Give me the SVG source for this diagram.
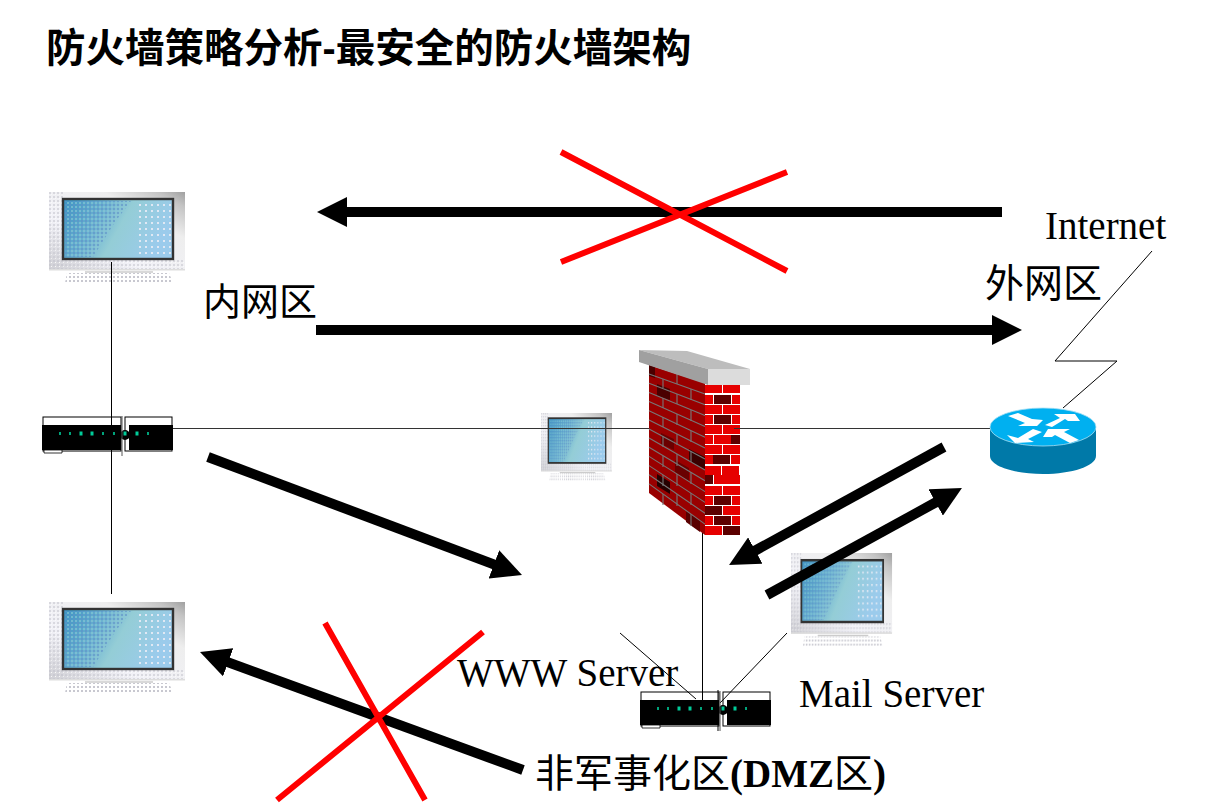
<svg xmlns="http://www.w3.org/2000/svg" width="1230" height="812" viewBox="0 0 1230 812">
<style>
text{fill:#000}
.lab{font-family:"Liberation Serif","Noto Sans CJK SC",serif;font-size:39px}
.title{font-family:"Liberation Sans","Noto Sans CJK SC",sans-serif;font-size:39.5px;font-weight:700}
.arrow{stroke:#000;stroke-width:10;fill:none;marker-end:url(#head)}
.cross{stroke:#f00;stroke-width:6;fill:none}
.thin{stroke:#000;stroke-width:1;fill:none}
.gray{stroke:#333;stroke-width:1;fill:none}
.b{fill:#e60000}.d{fill:#5c0000}
</style>
<defs>
<marker id="head" viewBox="0 0 30 30" refX="2" refY="15" markerWidth="3" markerHeight="3" orient="auto"><path d="M0 0L30 15L0 30Z" fill="#000"/></marker>
<linearGradient id="bezel" x1="0" y1="1" x2="1" y2="0"><stop offset="0" stop-color="#cfcfd4"/><stop offset=".35" stop-color="#f2f2f8"/><stop offset=".7" stop-color="#eeeeee"/><stop offset=".9" stop-color="#c4c4c4"/><stop offset="1" stop-color="#a0a0a0"/></linearGradient>
<linearGradient id="screen" x1="0" y1="0" x2="1" y2=".3"><stop offset="0" stop-color="#3a93c2"/><stop offset=".4" stop-color="#6eb4d2"/><stop offset=".6" stop-color="#94cdd6"/><stop offset="1" stop-color="#9bcbec"/></linearGradient>
<pattern id="grain" width="4" height="4" patternUnits="userSpaceOnUse"><rect width="2" height="2" fill="#c8c8d0"/><rect x="2" y="2" width="1" height="1" fill="#fff"/></pattern>
<pattern id="blued" width="4" height="4" patternUnits="userSpaceOnUse"><rect width="2" height="2" fill="#5f8fc8" opacity=".6"/><rect x="2" y="2" width="2" height="2" fill="#8cc8d6" opacity=".6"/></pattern>
<pattern id="whited" width="6" height="6" patternUnits="userSpaceOnUse"><rect width="2" height="2" fill="#e0e8f4"/></pattern>
<g id="monitor">
<rect x="0" y="0" width="136" height="78" fill="url(#bezel)"/>
<rect x="0" y="0" width="14" height="78" fill="url(#grain)" opacity=".6"/>
<rect x="0" y="67" width="136" height="11" fill="url(#grain)" opacity=".6"/>
<rect x="0" y="77" width="136" height="1.5" fill="#ddd"/>
<rect x="14" y="7" width="110" height="60" fill="url(#screen)"/>
<path d="M16 9H82L66 30L44 65H16Z" fill="url(#blued)"/>
<rect x="88" y="12" width="34" height="53" fill="url(#whited)"/>
<rect x="14" y="7" width="110" height="60" fill="none" stroke="#333" stroke-width="2.4"/>
<path d="M18 81H120L124 91H16Z" fill="url(#grain)"/>
<path d="M36 80H104" stroke="#ccc" stroke-width="1.5"/>
</g>
<g id="switch">
<rect x="1" y="0" width="78" height="34" fill="none" stroke="#000" stroke-width="1"/>
<rect x="83" y="0" width="47" height="34" fill="none" stroke="#000" stroke-width="1"/>
<rect x="0" y="8" width="79" height="25" fill="#000"/>
<rect x="87" y="8" width="44" height="25" fill="#000"/>
<circle cx="83" cy="18" r="5" fill="#000"/>
<path d="M18 15v3M28 15v3M61 15v3M72 15v3M106 15v3" stroke="#0c9" stroke-width="1.6"/>
<path d="M39 14.5v4M50 14.5v4M83 14.5v4M95 14.5v4" stroke="#0c9" stroke-width="3"/>
<path d="M2 33h18v3h-18z" fill="#fff" stroke="#000" stroke-width=".8"/>
<path d="M80 -1v40" stroke="#555" stroke-width="1"/>
</g>
</defs>
<rect width="1230" height="812" fill="#fff"/>
<text class="title" x="46" y="62">防火墙策略分析-最安全的防火墙架构</text>

<g id="pc-top"><use href="#monitor" x="49" y="192"/></g>
<g id="pc-bottom"><use href="#monitor" x="49" y="602"/></g>
<g id="pc-mid"><use href="#monitor" transform="translate(541 413) scale(.522 .745)"/></g>
<g id="pc-mail"><use href="#monitor" transform="translate(791 553) scale(.743 1.03)"/></g>

<g id="connectors-thin">
<path class="thin" d="M111.5 262V594"/>
<path class="gray" d="M172 428.5H650"/>
<path class="gray" d="M734 428.5H990"/>
<path class="thin" d="M702.5 532V700"/>
<path class="thin" d="M620 633L696 699"/>
<path class="thin" d="M787 633L720 703"/>
<path class="thin" d="M1152 251L1055 361H1117L1063 408"/>
</g>

<g id="switch-left"><use href="#switch" x="42" y="417"/></g>
<g id="switch-dmz"><use href="#switch" x="640" y="692"/></g>
<path class="thin" d="M718 690V731"/>

<g id="firewall">
<path d="M649 365L705 383V535L649 493Z" fill="#990000"/>
<path fill="#4a0000" d="M657 384L670 389V400L657 396Z"/>
<path fill="#4a0000" d="M649 365L655 367V378L649 376Z"/>
<path fill="#6a0000" d="M661 433L674 439V450L661 444Z"/>
<path fill="#3a0000" d="M689 449L705 457V470L689 461Z"/>
<path fill="#6a0000" d="M675 460L689 468V481L675 472Z"/>
<path fill="#260000" d="M657 474L670 482V494L657 486Z"/>
<path fill="#5a0000" d="M686 511L700 521V532L686 522Z"/>
<path fill="none" stroke="#777" stroke-width="1.1" d="M649 374.1L705 393.9M649 383.3L705 404.7M649 392.4L705 415.6M649 401.6L705 426.4M649 410.7L705 437.3M649 419.9L705 448.1M649 429L705 459M649 438.1L705 469.9M649 447.3L705 480.7M649 456.4L705 491.6M649 465.6L705 502.4M649 474.7L705 513.3M649 483.9L705 524.1"/>
<path fill="none" stroke="#777" stroke-width="1.1" d="M677 374v10M663 379v9M691 389v11M677 394v10M663 398v10M691 410v11M677 414v11M663 417v10M691 431v11M677 434v11M663 436v11M691 451v11M677 454v12M663 456v11M691 472v12M677 474v12M663 475v11M691 493v12M677 494v12M663 494v11M691 514v12"/>
<rect x="705" y="383" width="35" height="152" fill="#fff"/>
<g class="b">
<rect x="705" y="385" width="17" height="8"/><rect x="723" y="385" width="17" height="8"/>
<rect x="705" y="395" width="8" height="9"/><rect class="d" x="714" y="395" width="17" height="9"/><rect x="732" y="395" width="8" height="9"/>
<rect x="705" y="405" width="17" height="9"/><rect x="723" y="405" width="17" height="9"/>
<rect x="705" y="415" width="8" height="9"/><rect class="d" x="714" y="415" width="17" height="9"/><rect x="732" y="415" width="8" height="9"/>
<rect x="705" y="425" width="17" height="9"/><rect x="723" y="425" width="17" height="9"/>
<rect x="705" y="435" width="8" height="9"/><rect x="714" y="435" width="17" height="9"/><rect class="d" x="731" y="435" width="9" height="9"/>
<rect x="705" y="445" width="17" height="9"/><rect x="723" y="445" width="17" height="9"/>
<rect x="705" y="455" width="8" height="9"/><rect class="d" x="713" y="455" width="17" height="9"/><rect x="731" y="455" width="9" height="9"/>
<rect x="705" y="466" width="16" height="9"/><rect x="722" y="466" width="17" height="9"/>
<rect class="d" x="705" y="475" width="8" height="9"/><rect x="714" y="475" width="26" height="9"/>
<rect x="705" y="486" width="17" height="9"/><rect x="723" y="486" width="17" height="9"/>
<rect x="705" y="496" width="8" height="9"/><rect class="d" x="714" y="496" width="17" height="9"/><rect x="732" y="496" width="8" height="9"/>
<rect class="d" x="705" y="506" width="17" height="9"/><rect x="723" y="506" width="17" height="9"/>
<rect x="705" y="516" width="8" height="9"/><rect class="d" x="714" y="516" width="17" height="9"/><rect x="732" y="516" width="8" height="9"/>
<rect x="705" y="526" width="17" height="9"/><rect class="d" x="723" y="526" width="17" height="9"/>
</g>
<path d="M639 350L687 351L750 369H708Z" fill="#bdbdbd"/>
<path d="M639 350L708 369V385L639 362Z" fill="#a0a0a0"/>
<rect x="708" y="369" width="42" height="16" fill="#dcdcdc"/>
<path class="gray" d="M734 428.5H740"/>
</g>

<g id="router">
<path d="M990 427V456C990 466 1014 474 1043 474S1096 466 1096 456V427Z" fill="#0079a8"/>
<ellipse cx="1043" cy="427" rx="53" ry="19" fill="#00b0f0" stroke="#a8e0f4" stroke-width=".8"/>
<path fill="#fff" d="M1008 416L1018 413L1032 419L1043 420L1037 426L1018 426L1025 423Z"/>
<path fill="#fff" d="M1054 414L1075 414L1080 421L1068 421L1065 419L1052 427L1045 425L1060 418Z"/>
<path fill="#fff" d="M1007 435L1018 438L1033 429L1042 432L1028 439L1034 442L1015 443Z"/>
<path fill="#fff" d="M1043 437L1048 429L1070 429L1064 432L1079 440L1070 443L1055 435L1052 437Z"/>
</g>

<g id="connectors">
<path class="arrow" d="M1002 212H345"/>
<path class="arrow" d="M316 330H994"/>
<path class="arrow" d="M208 457L495.8 565.1"/>
<path class="arrow" d="M944 447L753.6 551.5"/>
<path class="arrow" d="M767 595L937.4 501.5"/>
<path class="arrow" d="M523 770L226.3 661.6"/>
<path class="cross" d="M561 152L787 271M561 262L787 172"/>
<path class="cross" d="M325 623L425 800M483 632L277 800"/>
</g>

<g id="labels">
<text class="lab" x="1045" y="239">Internet</text>
<text class="lab" x="985" y="297">外网区</text>
<text class="lab" x="203" y="315" style="font-size:38px">内网区</text>
<text class="lab" x="457" y="686">WWW Server</text>
<text class="lab" x="799" y="707">Mail Server</text>
<text class="lab" x="535" y="787">非军事化区<tspan font-weight="700">(DMZ</tspan>区<tspan font-weight="700">)</tspan></text>
</g>
</svg>
